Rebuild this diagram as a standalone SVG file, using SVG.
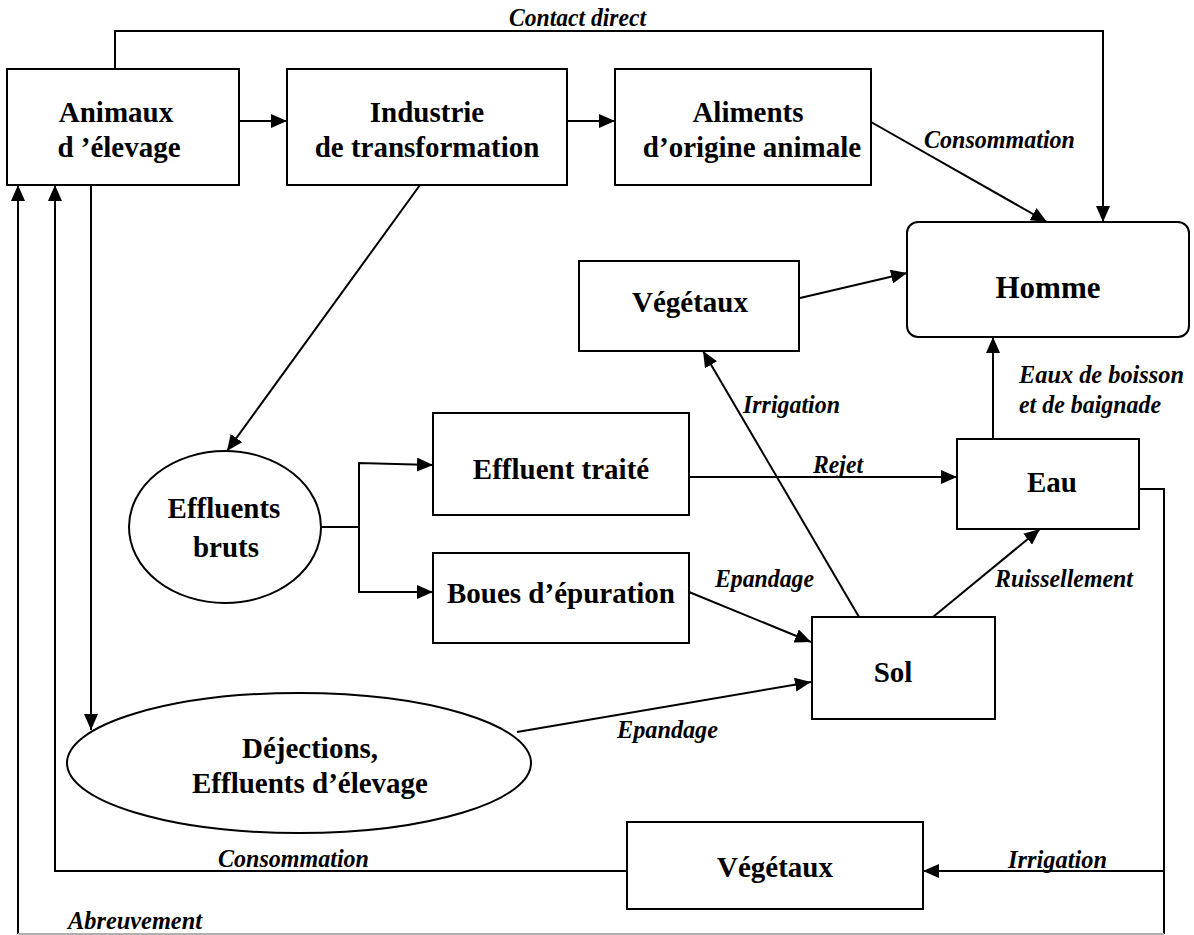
<svg xmlns="http://www.w3.org/2000/svg" width="1194" height="935" viewBox="0 0 1194 935">
<style>
.box{fill:#fff;stroke:#000;stroke-width:2}
.n{font-family:"Liberation Serif","Times New Roman",serif;font-weight:bold;font-size:29px;fill:#000;text-anchor:middle}
.l{font-family:"Liberation Serif","Times New Roman",serif;font-weight:bold;font-style:italic;font-size:25px;fill:#000}
.c{fill:none;stroke:#000;stroke-width:2}
.a{marker-end:url(#ah)}
</style>
<defs>
<marker id="ah" markerWidth="16" markerHeight="14" refX="16" refY="7" orient="auto" markerUnits="userSpaceOnUse">
<path d="M0,0 L16,7 L0,14 z" fill="#000"/>
</marker>
</defs>
<rect width="1194" height="935" fill="#fff"/>
<g id="connectors">
<path class="c a" d="M239,121 H287"/>
<path class="c a" d="M567,121 H615"/>
<path class="c a" d="M115,69 V31 H1103 V222"/>
<path class="c a" d="M871,122 L1047,222"/>
<path class="c a" d="M800,298 L907,273"/>
<path class="c a" d="M993,439 V337"/>
<path class="c a" d="M420,185 L227,451"/>
<path class="c a" d="M322,527 H359 V463 L433,465"/>
<path class="c a" d="M359,527 V592 H433"/>
<path class="c a" d="M689,477 H957"/>
<path class="c a" d="M859,617 L703,351"/>
<path class="c a" d="M689,592 L811,642"/>
<path class="c a" d="M933,617 L1040,529"/>
<path class="c a" d="M517,732 L811,682"/>
<path class="c" d="M1139,489 H1164 V934"/>
<path class="c a" d="M1164,871 H923"/>
<path class="c a" d="M627,871 H55 V185"/>
<path class="c a" d="M18,934 V185"/>
<path d="M18,934 H1164" fill="none" stroke="#b0b0b0" stroke-width="2"/>
<path class="c a" d="M91,185 V730"/>
<text class="l" x="509" y="26" textLength="137" lengthAdjust="spacingAndGlyphs">Contact direct</text>
<text class="l" x="924" y="148" textLength="151" lengthAdjust="spacingAndGlyphs">Consommation</text>
<text class="l" x="1019" y="383" textLength="165" lengthAdjust="spacingAndGlyphs">Eaux de boisson</text>
<text class="l" x="1019" y="413" textLength="142" lengthAdjust="spacingAndGlyphs">et de baignade</text>
<text class="l" x="743" y="413" textLength="97" lengthAdjust="spacingAndGlyphs">Irrigation</text>
<text class="l" x="813" y="473" textLength="50" lengthAdjust="spacingAndGlyphs">Rejet</text>
<text class="l" x="715" y="587" textLength="99" lengthAdjust="spacingAndGlyphs">Epandage</text>
<text class="l" x="995" y="587" textLength="138" lengthAdjust="spacingAndGlyphs">Ruissellement</text>
<text class="l" x="617" y="738" textLength="101" lengthAdjust="spacingAndGlyphs">Epandage</text>
<text class="l" x="218" y="867" textLength="151" lengthAdjust="spacingAndGlyphs">Consommation</text>
<text class="l" x="1008" y="868" textLength="99" lengthAdjust="spacingAndGlyphs">Irrigation</text>
<text class="l" x="68" y="929" textLength="134" lengthAdjust="spacingAndGlyphs">Abreuvement</text>
</g>
<g id="animaux">
<rect class="box" x="7" y="69" width="232" height="116"/>
<text class="n" x="116" y="122">Animaux</text>
<text class="n" x="119" y="157">d ’élevage</text>
</g>
<g id="industrie">
<rect class="box" x="287" y="69" width="280" height="116"/>
<text class="n" x="427" y="122">Industrie</text>
<text class="n" x="427" y="157">de transformation</text>
</g>
<g id="aliments">
<rect class="box" x="615" y="69" width="256" height="116"/>
<text class="n" x="748" y="122">Aliments</text>
<text class="n" x="752" y="157">d’origine animale</text>
</g>
<g id="homme">
<rect class="box" x="907" y="222" width="282" height="115" rx="11" ry="11"/>
<text class="n" x="1048" y="298" style="font-size:31px">Homme</text>
</g>
<g id="vegetaux-haut">
<rect class="box" x="579" y="261" width="220" height="90"/>
<text class="n" x="690" y="312">Végétaux</text>
</g>
<g id="effluents-bruts">
<ellipse class="box" cx="225" cy="527" rx="96" ry="76"/>
<text class="n" x="224" y="518">Effluents</text>
<text class="n" x="226" y="557">bruts</text>
</g>
<g id="effluent-traite">
<rect class="box" x="433" y="413" width="256" height="102"/>
<text class="n" x="561" y="479">Effluent traité</text>
</g>
<g id="boues">
<rect class="box" x="433" y="553" width="256" height="90"/>
<text class="n" x="561" y="603">Boues d’épuration</text>
</g>
<g id="eau">
<rect class="box" x="957" y="439" width="182" height="90"/>
<text class="n" x="1052" y="492">Eau</text>
</g>
<g id="sol">
<rect class="box" x="812" y="617" width="183" height="102"/>
<text class="n" x="893" y="682">Sol</text>
</g>
<g id="dejections">
<ellipse class="box" cx="299" cy="763" rx="232" ry="70"/>
<text class="n" x="310" y="758">Déjections,</text>
<text class="n" x="310" y="793">Effluents d’élevage</text>
</g>
<g id="vegetaux-bas">
<rect class="box" x="627" y="822" width="296" height="87"/>
<text class="n" x="775" y="877">Végétaux</text>
</g>
</svg>
